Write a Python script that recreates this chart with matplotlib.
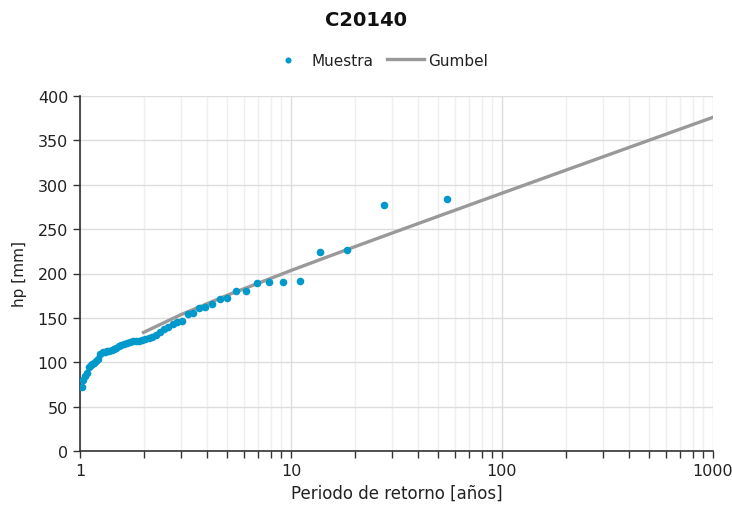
import matplotlib
matplotlib.use("Agg")
import matplotlib.pyplot as plt
from matplotlib.ticker import LogLocator, NullFormatter, FixedLocator

# Sample: return period (Weibull, n=54) and precipitation hp [mm], rank 1..54
rank = list(range(1, 55))
hp_sample = [284, 277, 226.5, 224, 191.5, 190.5, 190, 189, 180.5, 180,
             172, 171, 166, 162, 161, 156, 154, 146, 145, 143,
             140, 138, 134, 131, 128, 127, 126, 125, 124.5, 124,
             123.5, 123, 122, 121, 120, 118, 116, 115, 114, 113,
             112.5, 112, 111, 109, 104, 101, 99, 98, 97, 95,
             88, 84, 80, 72]
n_years = 54
T_sample = [(n_years + 1) / m for m in rank]

# Gumbel fitted line
T_gumbel = [2, 3, 5, 10, 20, 50, 100, 200, 500, 1000]
hp_gumbel = [133.6, 153.5, 175.6, 203.4, 230.1, 264.6, 290.5, 316.3, 350.3, 376.0]

fig = plt.figure(figsize=(7.32, 5.10), dpi=100)
ax = fig.add_axes([80/732, 1-452/510, (713-80)/732, (452-97)/510])

ax.plot(T_gumbel, hp_gumbel, color="#999999", lw=2.4, label="Gumbel", zorder=2)
ax.scatter(T_sample, hp_sample, s=30, color="#0099CC", label="Muestra", zorder=3, linewidths=0)

ax.set_xscale("log")
ax.set_xlim(1, 1000)
ax.set_ylim(0, 400)
ax.yaxis.set_major_locator(FixedLocator(range(0, 401, 50)))
ax.xaxis.set_major_locator(LogLocator(base=10))
ax.xaxis.set_minor_locator(LogLocator(base=10, subs=range(2, 10)))
ax.xaxis.set_minor_formatter(NullFormatter())
ax.set_xticks([1, 10, 100, 1000])
ax.set_xticklabels(["1", "10", "100", "1000"])

ax.grid(True, which="major", color="#dddddd", lw=1)
ax.grid(True, which="minor", axis="x", color="#eeeeee", lw=1)
ax.set_axisbelow(True)

for s in ["top", "right"]:
    ax.spines[s].set_visible(False)
for s in ["left", "bottom"]:
    ax.spines[s].set_color("#333333")
    ax.spines[s].set_linewidth(1.2)

ax.tick_params(axis="both", which="major", direction="out", length=5, width=1,
               color="#333333", labelsize=11.5, labelcolor="#222222")
ax.tick_params(axis="x", which="minor", direction="out", length=5, width=1, color="#333333")

ax.set_xlabel("Periodo de retorno [años]", fontsize=12, color="#222222", labelpad=4)
ax.set_ylabel("hp [mm]", fontsize=11, color="#222222", labelpad=8)

fig.text(0.5, 1-20/510, "C20140", ha="center", va="center", fontsize=14,
         fontweight="bold", color="#111111")

handles, labels = ax.get_legend_handles_labels()
order = [labels.index("Muestra"), labels.index("Gumbel")]
leg = fig.legend([handles[i] for i in order], [labels[i] for i in order],
                 loc="center", bbox_to_anchor=(0.518, 1-61/510), ncol=2, frameon=False,
                 fontsize=11, handlelength=2.4, handletextpad=0.3, columnspacing=0.9,
                 markerscale=0.8)
for t in leg.get_texts():
    t.set_color("#222222")

fig.savefig("out.png", dpi=100)
